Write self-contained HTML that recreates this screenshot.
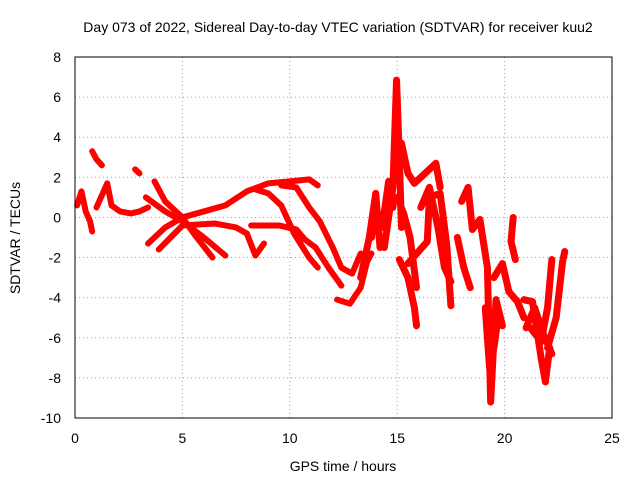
<!DOCTYPE html>
<html><head><meta charset="utf-8"><style>
body{margin:0;background:#fff}
svg{display:block;font-family:"Liberation Sans",sans-serif}
</style></head><body>
<svg id="chart" width="640" height="480">
<rect width="640" height="480" fill="#fff"/>
<text x="338" y="32" text-anchor="middle" font-size="14">Day 073 of 2022, Sidereal Day-to-day VTEC variation (SDTVAR) for receiver kuu2</text>
<g id="grid"></g><g id="ticks"></g><g id="series"></g>
<rect x="75" y="57" width="537" height="361" fill="none" stroke="#000"/>
<text x="343" y="471" text-anchor="middle" font-size="14">GPS time / hours</text>
<text transform="translate(20,238) rotate(-90)" text-anchor="middle" font-size="14">SDTVAR / TECUs</text>
</svg>
<script>
const xTicks=[0,5,10,15,20,25];
const yTicks=[8,6,4,2,0,-2,-4,-6,-8,-10];
const tA=[0.1,0.3,0.5,0.7,0.8];const vA=[0.6,1.3,0.3,-0.2,-0.7];
const tB=[0.8,1.0,1.25];const vB=[3.3,2.9,2.6];
const tC=[1.0,1.5,1.7,2.1,2.6,3.0,3.4];const vC=[0.5,1.7,0.6,0.3,0.2,0.3,0.5];
const tD=[2.8,3.0];const vD=[2.4,2.2];
const tE=[3.7,4.2,5,5.6,6.4];const vE=[1.8,0.8,0,-0.9,-2.0];
const tF=[3.3,4.2,5,6,7];const vF=[1.0,0.3,-0.2,-1.0,-1.9];
const tG=[3.4,4.2,5,6,7,8,9,10,10.9,11.3];const vG=[-1.3,-0.5,0,0.3,0.6,1.3,1.7,1.8,1.9,1.6];
const tH=[3.9,5,6.5,7.5,8,8.4,8.8];const vH=[-1.6,-0.4,-0.3,-0.5,-0.8,-1.9,-1.3];
const tI=[8.4,9,9.6,10.2,10.9,11.3];const vI=[1.4,1.2,0.6,-0.8,-2.0,-2.5];
const tJ=[8.2,9.5,10.3,10.7,11.2,11.8,12.4];const vJ=[-0.4,-0.4,-0.6,-1.1,-1.5,-2.5,-3.4];
const tK=[9.6,10.3,10.9,11.4,12,12.4,12.9,13.3];const vK=[1.6,1.5,0.5,-0.2,-1.5,-2.5,-2.8,-1.8];
const tK2=[12.2,12.8,13.3,13.6,13.8];const vK2=[-4.1,-4.3,-3.5,-2.2,-1.8];
const tL=[13.3,13.7,14.0,14.2];const vL=[-3.0,-1.0,1.2,-1.5];
const tL2=[14.4,14.8,14.97,15.1,15.2];const vL2=[-1.5,1.5,6.85,3.0,-0.5];
const tL3=[13.8,14.0,14.3,14.6,14.8];const vL3=[-1.0,0.5,-0.5,1.8,0.5];
const tM=[15.2,15.5,15.8,16.3,16.8,17.0];const vM=[3.7,2.2,1.7,2.2,2.7,1.5];
const tM2=[15.1,15.5,15.8,15.9];const vM2=[-2.1,-3.0,-4.5,-5.4];
const tM3=[15.0,15.3,15.6,15.9];const vM3=[1.0,0.2,-1.0,-3.5];
const tN=[15.5,16.4,16.5,17.0,17.3,17.5];const vN=[-2.3,-1.2,1.0,1.2,-1.3,-4.4];
const tN2=[16.1,16.5,16.9,17.2,17.5];const vN2=[0.5,1.5,-0.5,-2.5,-3.2];
const tN3=[16.8,17.1,17.4];const vN3=[0.0,-1.5,-2.8];
const tO=[18.0,18.3,18.5,18.85,19.2,19.35,19.6,19.9];const vO=[0.8,1.5,-0.6,-0.1,-2.5,-9.2,-4.1,-5.4];
const tO2=[19.1,19.3,19.5,19.7];const vO2=[-4.5,-7.5,-6.5,-5.0];
const tP=[17.8,18.1,18.4];const vP=[-1.0,-2.5,-3.5];
const tQ=[20.4,20.3,20.5];const vQ=[0.0,-1.2,-2.1];
const tR=[19.5,19.9,20.2,20.6,20.9];const vR=[-3.0,-2.3,-3.7,-4.2,-5.0];
const tS=[20.9,21.3,21.7,21.9,22.1];const vS=[-4.1,-4.2,-7.0,-8.2,-6.5];
const tS2=[21.0,21.4,21.8,22.2];const vS2=[-5.5,-4.5,-5.8,-6.8];
const tT=[21.2,21.7,22.0,22.2];const vT=[-5.5,-6.2,-4.5,-2.1];
const tU=[22.0,22.4,22.7,22.8];const vU=[-6.5,-5.0,-2.2,-1.7];
const seriesT=[tA,tB,tC,tD,tE,tF,tG,tH,tI,tJ,tK,tK2,tL,tL2,tL3,tM,tM2,tM3,tN,tN2,tN3,tO,tO2,tP,tQ,tR,tS,tS2,tT,tU];
const seriesV=[vA,vB,vC,vD,vE,vF,vG,vH,vI,vJ,vK,vK2,vL,vL2,vL3,vM,vM2,vM3,vN,vN2,vN3,vO,vO2,vP,vQ,vR,vS,vS2,vT,vU];
const NS="http://www.w3.org/2000/svg";
const X=t=>75+t*537/25, Y=v=>57+(8-v)*361/18;
const grid=document.getElementById('grid'),ticks=document.getElementById('ticks'),ser=document.getElementById('series');
function mk(tag,at,p){const e=document.createElementNS(NS,tag);for(const k in at)e.setAttribute(k,at[k]);p.appendChild(e);return e;}
xTicks.forEach(t=>{
 if(t>0&&t<25){const g=mk('line',{x1:X(t),x2:X(t),y1:57,y2:418,stroke:'#a0a0a0','stroke-dasharray':'1,3'},grid);
 
 }
 const l=mk('text',{x:X(t),y:443,'text-anchor':'middle','font-size':14},ticks);l.textContent=t;
 
 
});
yTicks.forEach(v=>{
 if(v>-10&&v<8){const g=mk('line',{x1:75,x2:612,y1:Y(v),y2:Y(v),stroke:'#a0a0a0','stroke-dasharray':'1,3'},grid);
 
 }
 const l=mk('text',{x:61,y:Y(v)+5,'text-anchor':'end','font-size':14},ticks);l.textContent=v;
 
 
});
seriesT.forEach((ts,i)=>{
 const vs=seriesV[i];
 const pts=ts.map((t,j)=>X(t)+','+Y(vs[j])).join(' ');
 const p=mk('polyline',{points:pts,fill:'none',stroke:'#ff0000','stroke-width':(ts[0]>13?7:6),'stroke-linejoin':'round','stroke-linecap':'round'},ser);
 
 
 ts.forEach((t,j)=>{
  const m=mk('text',{x:X(t),y:Y(vs[j])+4,'text-anchor':'middle','font-size':12,fill:'#ff0000'},ser);m.textContent='+';
  
  
 });
});
</script>
</body></html>
